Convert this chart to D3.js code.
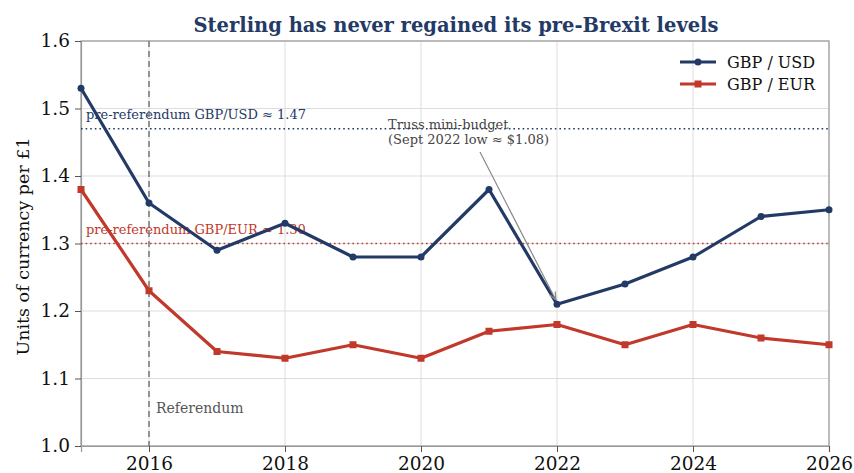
<!DOCTYPE html>
<html>
<head>
<meta charset="utf-8">
<script src="https://cdn.jsdelivr.net/npm/d3@7"></script>
<style>
  body { margin: 0; background: #fff; }
  svg { font-family: "DejaVu Serif", serif; }
</style>
</head>
<body>
<svg id="chart"></svg>
<script>
var width = 854;
var height = 473;

// data
var years = [2015, 2016, 2017, 2018, 2019, 2020, 2021, 2022, 2023, 2024, 2025, 2026];
var gbpUsd = [1.53, 1.36, 1.29, 1.33, 1.28, 1.28, 1.38, 1.21, 1.24, 1.28, 1.34, 1.35];
var gbpEur = [1.38, 1.23, 1.14, 1.13, 1.15, 1.13, 1.17, 1.18, 1.15, 1.18, 1.16, 1.15];
var xTicks = [2016, 2018, 2020, 2022, 2024, 2026];
var yTicks = [1.0, 1.1, 1.2, 1.3, 1.4, 1.5, 1.6];
var preRefUsd = 1.47;
var preRefEur = 1.30;
var referendumYear = 2016;

var navy = "#233a66";
var red = "#c0392b";

var svg = d3.select("#chart").attr("width", width).attr("height", height);

var x = d3.scaleLinear().domain([2015, 2026]).range([81, 829]);
var y = d3.scaleLinear().domain([1.0, 1.6]).range([446, 41]);

// grid
svg.append("g").selectAll("line").data(xTicks).join("line")
  .attr("x1", d => x(d)).attr("x2", d => x(d))
  .attr("y1", y(1.6)).attr("y2", y(1.0))
  .attr("stroke", "#dddddd").attr("stroke-width", 1);
svg.append("g").selectAll("line").data(yTicks).join("line")
  .attr("x1", x(2015)).attr("x2", x(2026))
  .attr("y1", d => y(d)).attr("y2", d => y(d))
  .attr("stroke", "#dddddd").attr("stroke-width", 1);

// frame
svg.append("rect")
  .attr("x", x(2015)).attr("y", y(1.6))
  .attr("width", x(2026) - x(2015)).attr("height", y(1.0) - y(1.6))
  .attr("fill", "none").attr("stroke", "#999").attr("stroke-width", 1.2);

// axes
var xAxis = svg.append("g")
  .attr("transform", "translate(0," + y(1.0) + ")")
  .call(d3.axisBottom(x).tickValues(xTicks).tickFormat(d3.format("d")).tickSize(6).tickPadding(5));
var yAxis = svg.append("g")
  .attr("transform", "translate(" + x(2015) + ",0)")
  .call(d3.axisLeft(y).tickValues(yTicks).tickFormat(d3.format(".1f")).tickSize(6).tickPadding(5));
[xAxis, yAxis].forEach(function(a) {
  a.select(".domain").attr("stroke", "#999").attr("stroke-width", 1.2);
  a.selectAll(".tick line").attr("stroke", "#555");
  a.selectAll(".tick text").attr("font-family", "DejaVu Serif").attr("font-size", 18.5).attr("fill", "#111");
});

// y label
svg.append("text")
  .attr("transform", "translate(29," + ((y(1.0) + y(1.6)) / 2 + 3) + ") rotate(-90)")
  .attr("text-anchor", "middle")
  .attr("font-size", 17.5).attr("fill", "#111")
  .text("Units of currency per £1");

// title
svg.append("text")
  .attr("x", 456).attr("y", 32)
  .attr("text-anchor", "middle")
  .attr("font-size", 19.5).attr("font-weight", "bold").attr("fill", navy)
  .text("Sterling has never regained its pre-Brexit levels");

// reference levels
svg.append("line")
  .attr("x1", x(2015)).attr("x2", x(2026))
  .attr("y1", y(preRefUsd)).attr("y2", y(preRefUsd))
  .attr("stroke", navy).attr("stroke-width", 1.6).attr("stroke-dasharray", "1.6,3");
svg.append("line")
  .attr("x1", x(2015)).attr("x2", x(2026))
  .attr("y1", y(preRefEur)).attr("y2", y(preRefEur))
  .attr("stroke", red).attr("stroke-width", 1.6).attr("stroke-dasharray", "1.6,3");
svg.append("text")
  .attr("x", x(2015) + 5).attr("y", y(preRefUsd) - 10)
  .attr("font-size", 13).attr("fill", navy)
  .text("pre-referendum GBP/USD ≈ 1.47");
svg.append("text")
  .attr("x", x(2015) + 5).attr("y", y(preRefEur) - 10)
  .attr("font-size", 13).attr("fill", red)
  .text("pre-referendum GBP/EUR ≈ 1.30");

// referendum marker
svg.append("line")
  .attr("x1", x(referendumYear)).attr("x2", x(referendumYear))
  .attr("y1", y(1.6)).attr("y2", y(1.0))
  .attr("stroke", "#777").attr("stroke-width", 1.5).attr("stroke-dasharray", "6,4");
svg.append("text")
  .attr("x", x(referendumYear) + 7).attr("y", 413)
  .attr("font-size", 14).attr("fill", "#555")
  .text("Referendum");

// series
var line = d3.line().x((d, i) => x(years[i])).y(d => y(d));
svg.append("path").datum(gbpEur).attr("d", line)
  .attr("fill", "none").attr("stroke", red).attr("stroke-width", 3.2).attr("stroke-linejoin", "round");
svg.append("g").selectAll("rect").data(gbpEur).join("rect")
  .attr("x", (d, i) => x(years[i]) - 3.5).attr("y", d => y(d) - 3.5)
  .attr("width", 7).attr("height", 7).attr("fill", red);
svg.append("path").datum(gbpUsd).attr("d", line)
  .attr("fill", "none").attr("stroke", navy).attr("stroke-width", 3.2).attr("stroke-linejoin", "round");
svg.append("g").selectAll("circle").data(gbpUsd).join("circle")
  .attr("cx", (d, i) => x(years[i])).attr("cy", d => y(d))
  .attr("r", 3.5).attr("fill", navy);

// Truss annotation
svg.append("defs").append("marker")
  .attr("id", "arrow").attr("viewBox", "0 0 10 10").attr("refX", 10).attr("refY", 5)
  .attr("markerWidth", 7).attr("markerHeight", 7).attr("orient", "auto")
  .append("path").attr("d", "M0,1 L10,5 L0,9").attr("fill", "none").attr("stroke", "#888").attr("stroke-width", 1.5);
svg.append("line")
  .attr("x1", 480).attr("y1", 152)
  .attr("x2", x(2022) - 1).attr("y2", y(gbpUsd[7]) - 4)
  .attr("stroke", "#888").attr("stroke-width", 1.2).attr("marker-end", "url(#arrow)");
var ann = svg.append("text").attr("x", 388).attr("y", 129)
  .attr("font-size", 13).attr("fill", "#444");
ann.append("tspan").attr("x", 388).text("Truss mini-budget");
ann.append("tspan").attr("x", 388).attr("dy", 14.5).text("(Sept 2022 low ≈ $1.08)");

// legend
var legend = [{name: "GBP / USD", color: navy, shape: "circle"}, {name: "GBP / EUR", color: red, shape: "square"}];
var lg = svg.append("g").selectAll("g").data(legend).join("g")
  .attr("transform", (d, i) => "translate(680," + (62 + i * 22) + ")");
lg.append("line").attr("x1", 0).attr("x2", 36).attr("stroke", d => d.color).attr("stroke-width", 3.2);
lg.filter(d => d.shape === "circle").append("circle").attr("cx", 18).attr("r", 3.5).attr("fill", d => d.color);
lg.filter(d => d.shape === "square").append("rect").attr("x", 14.5).attr("y", -3.5).attr("width", 7).attr("height", 7).attr("fill", d => d.color);
lg.append("text").attr("x", 47).attr("y", 5.5).attr("font-size", 16).attr("fill", "#111").text(d => d.name);
</script>
</body>
</html>
